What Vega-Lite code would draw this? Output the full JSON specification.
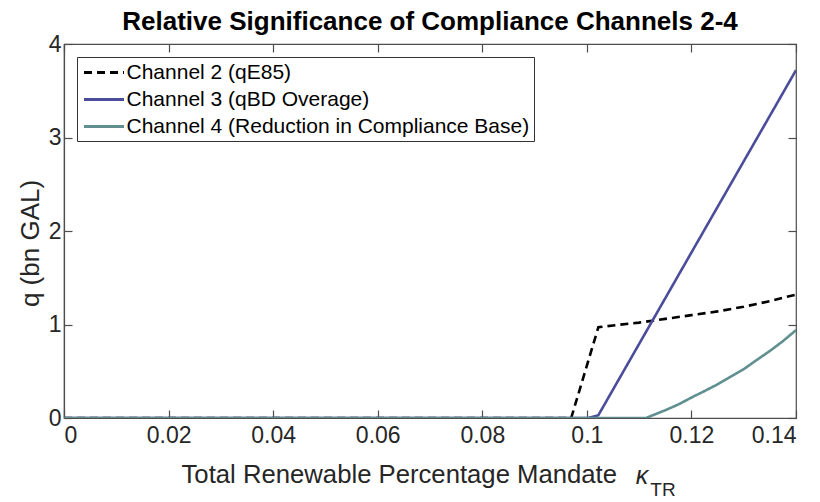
{
  "$schema": "https://vega.github.io/schema/vega-lite/v6.json",
  "width": 732,
  "height": 374,
  "autosize": "none",
  "padding": {"left": 64, "top": 44, "right": 24, "bottom": 84},
  "background": "white",
  "title": {
    "text": "Relative Significance of Compliance Channels 2-4",
    "fontSize": 26,
    "fontWeight": "bold",
    "font": "Liberation Sans",
    "color": "#000000",
    "anchor": "middle",
    "offset": -2
  },
  "config": {
    "font": "Liberation Sans",
    "view": {"stroke": "#4d4d4d", "strokeWidth": 1.2},
    "axis": {
      "grid": false,
      "domainColor": "#4d4d4d",
      "tickColor": "#4d4d4d",
      "labelColor": "#262626",
      "titleColor": "#262626",
      "labelFont": "Liberation Sans",
      "titleFont": "Liberation Sans",
      "labelFontSize": 23,
      "titleFontSize": 26,
      "titleFontWeight": "normal",
      "tickSize": -8,
      "tickWidth": 1.2,
      "domainWidth": 1.2
    },
    "legend": {
      "symbolType": "M-2,0H2",
      "symbolSize": 400,
      "symbolStrokeWidth": 3,
      "symbolOffset": 11.5,
      "labelFontSize": 21,
      "labelFont": "Liberation Sans",
      "labelColor": "#000000",
      "labelLimit": 600,
      "labelOffset": 11,
      "strokeColor": "#333333",
      "fillColor": "white",
      "padding": 4,
      "rowPadding": 5
    }
  },
  "data": {
    "values": [
      {"series": "Channel 2 (qE85)", "x": 0, "y": 0},
      {"series": "Channel 2 (qE85)", "x": 0.097, "y": 0},
      {"series": "Channel 2 (qE85)", "x": 0.1022, "y": 0.97},
      {"series": "Channel 2 (qE85)", "x": 0.105, "y": 0.99},
      {"series": "Channel 2 (qE85)", "x": 0.11, "y": 1.02},
      {"series": "Channel 2 (qE85)", "x": 0.115, "y": 1.06},
      {"series": "Channel 2 (qE85)", "x": 0.12, "y": 1.1},
      {"series": "Channel 2 (qE85)", "x": 0.125, "y": 1.14},
      {"series": "Channel 2 (qE85)", "x": 0.13, "y": 1.19},
      {"series": "Channel 2 (qE85)", "x": 0.135, "y": 1.25},
      {"series": "Channel 2 (qE85)", "x": 0.14, "y": 1.32},
      {"series": "Channel 3 (qBD Overage)", "x": 0, "y": 0},
      {"series": "Channel 3 (qBD Overage)", "x": 0.1002, "y": 0},
      {"series": "Channel 3 (qBD Overage)", "x": 0.1022, "y": 0.03},
      {"series": "Channel 3 (qBD Overage)", "x": 0.12, "y": 1.77},
      {"series": "Channel 3 (qBD Overage)", "x": 0.14, "y": 3.72},
      {"series": "Channel 4 (Reduction in Compliance Base)", "x": 0, "y": 0},
      {"series": "Channel 4 (Reduction in Compliance Base)", "x": 0.1113, "y": 0},
      {"series": "Channel 4 (Reduction in Compliance Base)", "x": 0.115, "y": 0.083},
      {"series": "Channel 4 (Reduction in Compliance Base)", "x": 0.1175, "y": 0.145},
      {"series": "Channel 4 (Reduction in Compliance Base)", "x": 0.1204, "y": 0.23},
      {"series": "Channel 4 (Reduction in Compliance Base)", "x": 0.1225, "y": 0.288},
      {"series": "Channel 4 (Reduction in Compliance Base)", "x": 0.125, "y": 0.36},
      {"series": "Channel 4 (Reduction in Compliance Base)", "x": 0.1275, "y": 0.442},
      {"series": "Channel 4 (Reduction in Compliance Base)", "x": 0.1302, "y": 0.53},
      {"series": "Channel 4 (Reduction in Compliance Base)", "x": 0.1325, "y": 0.621},
      {"series": "Channel 4 (Reduction in Compliance Base)", "x": 0.135, "y": 0.717},
      {"series": "Channel 4 (Reduction in Compliance Base)", "x": 0.1375, "y": 0.822},
      {"series": "Channel 4 (Reduction in Compliance Base)", "x": 0.14, "y": 0.94}
    ]
  },
  "layer": [
    {
      "mark": {"type": "line", "strokeWidth": 2.6, "clip": true},
      "encoding": {
        "x": {
          "field": "x",
          "type": "quantitative",
          "scale": {"domain": [0, 0.14], "nice": false, "zero": false},
          "axis": {
            "values": [0, 0.02, 0.04, 0.06, 0.08, 0.1, 0.12, 0.14],
            "format": "~g",
            "labelPadding": 14,
            "title": "Total Renewable Percentage Mandate",
            "titleFontSize": 25.7,
            "titleAlign": "left",
            "titleAnchor": null,
            "titleX": 117,
            "titleY": 64,
            "titleBaseline": "alphabetic"
          }
        },
        "y": {
          "field": "y",
          "type": "quantitative",
          "scale": {"domain": [0, 4], "nice": false},
          "axis": {
            "values": [0, 1, 2, 3, 4],
            "labelPadding": 11,
            "title": "q (bn GAL)",
            "titleX": -34,
            "titleY": 199,
            "titleAlign": "center",
            "titleBaseline": "middle",
            "titleAnchor": null
          }
        },
        "color": {
          "field": "series",
          "type": "nominal",
          "scale": {
            "domain": ["Channel 2 (qE85)", "Channel 3 (qBD Overage)", "Channel 4 (Reduction in Compliance Base)"],
            "range": ["#000000", "#4b4d9b", "#5f8f8f"]
          },
          "legend": {"title": null, "orient": "none", "legendX": 13, "legendY": 13}
        },
        "strokeDash": {
          "field": "series",
          "type": "nominal",
          "scale": {
            "domain": ["Channel 2 (qE85)", "Channel 3 (qBD Overage)", "Channel 4 (Reduction in Compliance Base)"],
            "range": [[8, 5], [1, 0], [1, 0]]
          },
          "legend": {"title": null, "orient": "none", "legendX": 13, "legendY": 13}
        }
      }
    },
    {
      "mark": {"type": "line", "opacity": 0},
      "encoding": {
        "detail": {"field": "series", "type": "nominal"},
        "x": {
          "field": "x",
          "type": "quantitative",
          "axis": {
            "orient": "top",
            "values": [0, 0.02, 0.04, 0.06, 0.08, 0.1, 0.12, 0.14],
            "labels": false,
            "domain": false,
            "title": "κ",
            "titleFontStyle": "italic",
            "titleFontSize": 25,
            "titleAnchor": null,
            "titleAlign": "center",
            "titleX": 577.5,
            "titleY": 439,
            "titleBaseline": "alphabetic"
          }
        },
        "y": {
          "field": "y",
          "type": "quantitative",
          "axis": {
            "orient": "right",
            "values": [0, 1, 2, 3, 4],
            "labels": false,
            "domain": false,
            "title": "TR",
            "titleFontSize": 19,
            "titleAngle": 0,
            "titleAnchor": null,
            "titleAlign": "center",
            "titleX": -133.5,
            "titleY": 451,
            "titleBaseline": "alphabetic"
          }
        }
      }
    }
  ],
  "resolve": {"axis": {"x": "independent", "y": "independent"}}
}
